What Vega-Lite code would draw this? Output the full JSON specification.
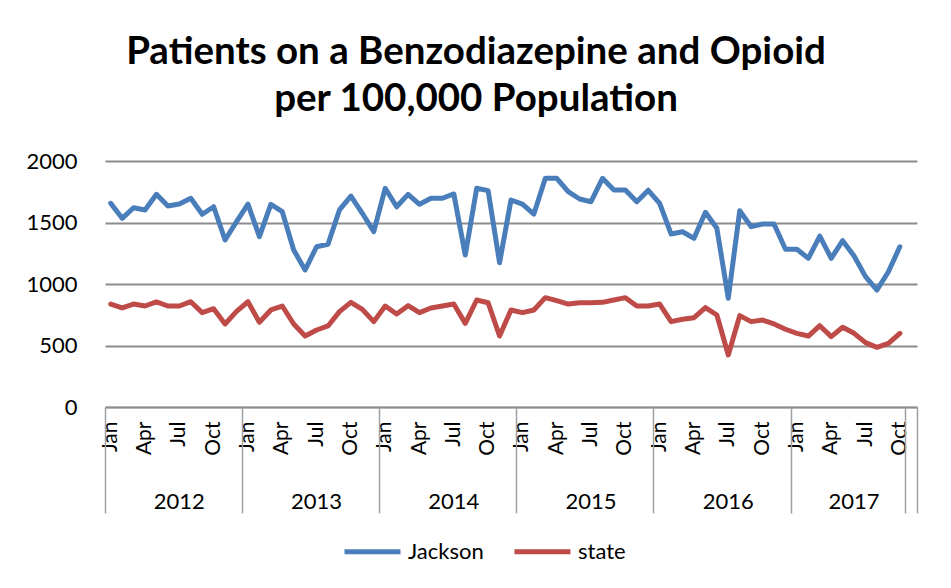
{
  "$schema": "https://vega.github.io/schema/vega-lite/v6.json",
  "width": 812,
  "height": 246,
  "autosize": {"type": "none"},
  "padding": {"left": 105, "top": 161, "right": 34, "bottom": 181},
  "background": "white",
  "config": {"view": {"stroke": null}, "font": "Lato"},
  "title": {
    "text": ["Patients on a Benzodiazepine and Opioid", "per 100,000 Population"],
    "font": "Lato",
    "fontSize": 38.5,
    "fontWeight": "bold",
    "color": "#000000",
    "anchor": "middle",
    "dx": -35,
    "lineHeight": 47,
    "offset": 31
  },
  "data": {
    "values": [
      {"m":"2012-01","Jackson":1656,"state":837},{"m":"2012-02","Jackson":1534,"state":805},{"m":"2012-03","Jackson":1620,"state":837},{"m":"2012-04","Jackson":1602,"state":821},{"m":"2012-05","Jackson":1729,"state":854},{"m":"2012-06","Jackson":1634,"state":821},{"m":"2012-07","Jackson":1650,"state":821},{"m":"2012-08","Jackson":1697,"state":856},{"m":"2012-09","Jackson":1567,"state":767},{"m":"2012-10","Jackson":1628,"state":799},{"m":"2012-11","Jackson":1358,"state":675},{"m":"2012-12","Jackson":1507,"state":778},
      {"m":"2013-01","Jackson":1650,"state":856},{"m":"2013-02","Jackson":1385,"state":689},{"m":"2013-03","Jackson":1648,"state":789},{"m":"2013-04","Jackson":1588,"state":821},{"m":"2013-05","Jackson":1276,"state":675},{"m":"2013-06","Jackson":1114,"state":577},{"m":"2013-07","Jackson":1303,"state":626},{"m":"2013-08","Jackson":1323,"state":659},{"m":"2013-09","Jackson":1602,"state":775},{"m":"2013-10","Jackson":1715,"state":851},{"m":"2013-11","Jackson":1575,"state":794},{"m":"2013-12","Jackson":1425,"state":694},
      {"m":"2014-01","Jackson":1778,"state":821},{"m":"2014-02","Jackson":1628,"state":756},{"m":"2014-03","Jackson":1729,"state":824},{"m":"2014-04","Jackson":1648,"state":767},{"m":"2014-05","Jackson":1697,"state":805},{"m":"2014-06","Jackson":1697,"state":821},{"m":"2014-07","Jackson":1732,"state":837},{"m":"2014-08","Jackson":1236,"state":680},{"m":"2014-09","Jackson":1778,"state":870},{"m":"2014-10","Jackson":1759,"state":848},{"m":"2014-11","Jackson":1173,"state":577},{"m":"2014-12","Jackson":1683,"state":789},
      {"m":"2015-01","Jackson":1650,"state":767},{"m":"2015-02","Jackson":1569,"state":789},{"m":"2015-03","Jackson":1859,"state":889},{"m":"2015-04","Jackson":1859,"state":865},{"m":"2015-05","Jackson":1751,"state":837},{"m":"2015-06","Jackson":1691,"state":848},{"m":"2015-07","Jackson":1669,"state":848},{"m":"2015-08","Jackson":1859,"state":851},{"m":"2015-09","Jackson":1764,"state":870},{"m":"2015-10","Jackson":1764,"state":889},{"m":"2015-11","Jackson":1669,"state":821},{"m":"2015-12","Jackson":1762,"state":821},
      {"m":"2016-01","Jackson":1656,"state":837},{"m":"2016-02","Jackson":1406,"state":694},{"m":"2016-03","Jackson":1425,"state":713},{"m":"2016-04","Jackson":1371,"state":726},{"m":"2016-05","Jackson":1583,"state":808},{"m":"2016-06","Jackson":1453,"state":748},{"m":"2016-07","Jackson":884,"state":423},{"m":"2016-08","Jackson":1596,"state":743},{"m":"2016-09","Jackson":1466,"state":694},{"m":"2016-10","Jackson":1488,"state":707},{"m":"2016-11","Jackson":1488,"state":675},{"m":"2016-12","Jackson":1282,"state":632},
      {"m":"2017-01","Jackson":1282,"state":599},{"m":"2017-02","Jackson":1209,"state":577},{"m":"2017-03","Jackson":1390,"state":661},{"m":"2017-04","Jackson":1209,"state":572},{"m":"2017-05","Jackson":1352,"state":648},{"m":"2017-06","Jackson":1228,"state":599},{"m":"2017-07","Jackson":1060,"state":523},{"m":"2017-08","Jackson":951,"state":485},{"m":"2017-09","Jackson":1100,"state":518},{"m":"2017-10","Jackson":1303,"state":599}
    ]
  },
  "transform": [{"fold": ["Jackson", "state"], "as": ["s", "v"]}],
  "resolve": {"axis": {"x": "independent"}},
  "layer": [
    {
      "mark": {"type": "line", "strokeWidth": 5, "strokeJoin": "round", "strokeCap": "round"},
      "encoding": {
        "x": {
          "field": "m", "type": "ordinal", "bandPosition": 0.5,
          "scale": {"type": "band", "paddingInner": 0, "paddingOuter": 0,
            "domain": ["2012-01","2012-02","2012-03","2012-04","2012-05","2012-06","2012-07","2012-08","2012-09","2012-10","2012-11","2012-12","2013-01","2013-02","2013-03","2013-04","2013-05","2013-06","2013-07","2013-08","2013-09","2013-10","2013-11","2013-12","2014-01","2014-02","2014-03","2014-04","2014-05","2014-06","2014-07","2014-08","2014-09","2014-10","2014-11","2014-12","2015-01","2015-02","2015-03","2015-04","2015-05","2015-06","2015-07","2015-08","2015-09","2015-10","2015-11","2015-12","2016-01","2016-02","2016-03","2016-04","2016-05","2016-06","2016-07","2016-08","2016-09","2016-10","2016-11","2016-12","2017-01","2017-02","2017-03","2017-04","2017-05","2017-06","2017-07","2017-08","2017-09","2017-10","2017-11"]},
          "axis": {
            "orient": "bottom", "title": null, "grid": false, "ticks": false,
            "domain": true, "domainColor": "#8c8c8c", "domainWidth": 1.5,
            "values": ["2012-01","2012-04","2012-07","2012-10","2013-01","2013-04","2013-07","2013-10","2014-01","2014-04","2014-07","2014-10","2015-01","2015-04","2015-07","2015-10","2016-01","2016-04","2016-07","2016-10","2017-01","2017-04","2017-07","2017-10"],
            "labelExpr": "substring(datum.value,5,7)=='01'?'Jan':substring(datum.value,5,7)=='04'?'Apr':substring(datum.value,5,7)=='07'?'Jul':'Oct'",
            "labelAngle": -90, "labelPadding": 14, "labelFont": "Lato", "labelFontSize": 21, "labelColor": "#000000",
            "labelOverlap": false, "labelFlush": false, "labelBound": false
          }
        },
        "y": {
          "field": "v", "type": "quantitative",
          "scale": {"domain": [0, 2000], "nice": false, "zero": true},
          "axis": {
            "title": null, "values": [0, 500, 1000, 1500, 2000], "format": "d", "domain": false, "ticks": false,
            "grid": true, "gridColor": "#8c8c8c", "gridWidth": 1.8,
            "labelPadding": 28, "labelFont": "Lato", "labelFontSize": 22, "labelColor": "#000000"
          }
        },
        "color": {
          "field": "s", "type": "nominal",
          "scale": {"domain": ["Jackson", "state"], "range": ["#4A7EBB", "#BE4B48"]},
          "legend": {
            "title": null, "orient": "none", "legendX": 237, "legendY": 360, "direction": "horizontal",
            "symbolType": "stroke", "symbolSize": 3136, "symbolStrokeWidth": 5,
            "labelFont": "Lato", "labelFontSize": 22, "labelColor": "#000000",
            "labelOffset": 5, "columnPadding": 20
          }
        }
      }
    },
    {
      "mark": {"type": "line", "opacity": 0},
      "encoding": {
        "x": {
          "field": "m", "type": "ordinal",
          "axis": {
            "orient": "bottom", "title": null, "grid": false, "labels": false, "domain": false,
            "ticks": true, "tickSize": 106, "tickColor": "#a0a0a0", "tickWidth": 1.5,
            "bandPosition": 0,
            "values": ["2012-01","2013-01","2014-01","2015-01","2016-01","2017-01","2017-11"]
          }
        },
        "y": {"field": "v", "type": "quantitative"}
      }
    },
    {
      "mark": {"type": "line", "opacity": 0},
      "encoding": {
        "x": {
          "field": "m", "type": "ordinal",
          "axis": {
            "orient": "bottom", "title": null, "grid": false, "labels": false, "domain": false,
            "ticks": true, "tickSize": 106, "tickColor": "#a0a0a0", "tickWidth": 1.5,
            "bandPosition": 1,
            "values": ["2017-11"]
          }
        },
        "y": {"field": "v", "type": "quantitative"}
      }
    },
    {
      "mark": {"type": "line", "opacity": 0},
      "encoding": {
        "x": {
          "field": "m", "type": "ordinal",
          "axis": {
            "orient": "bottom", "title": null, "grid": false, "ticks": false, "domain": false,
            "bandPosition": 0,
            "values": ["2012-07","2013-07","2014-07","2015-07","2016-07","2017-06"],
            "labelExpr": "substring(datum.value,0,4)",
            "labelAngle": 0, "labelPadding": 84, "labelFont": "Lato", "labelFontSize": 22, "labelColor": "#000000",
            "labelOverlap": false, "labelFlush": false
          }
        },
        "y": {"field": "v", "type": "quantitative"}
      }
    }
  ]
}
